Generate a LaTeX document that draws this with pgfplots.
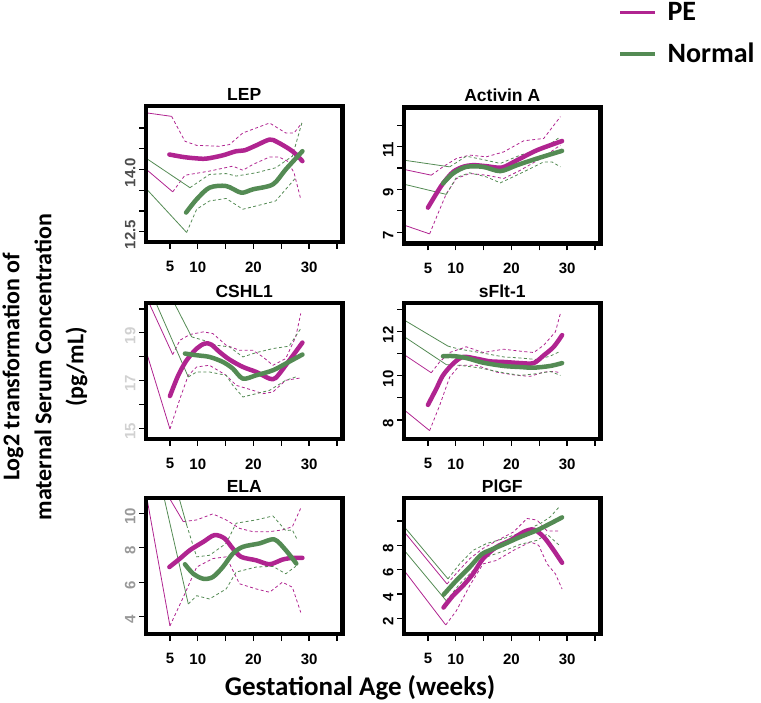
\documentclass[border=0pt]{standalone}
\usepackage{pgfplots}
\pgfplotsset{compat=1.18}
\usepackage{fontspec}
\setmainfont{Liberation Sans}
\newfontfamily\calibri{Carlito}
\definecolor{pecol}{RGB}{176,36,144}
\definecolor{nocol}{RGB}{84,139,84}
\pgfplotsset{
  panel/.style={
    scale only axis, width=196.5pt, height=136pt,
    xmin=0.7, xmax=36,
    xtick={5,10,...,35}, xticklabels={5,10,,20,,30,},
    tick pos=left, tick align=outside,
    major tick length=7pt,
    major tick style={line width=1.3pt, black},
    axis line style={line width=4.5pt, line cap=rect, line join=miter},
    tick label style={font=\fontsize{15}{15}\selectfont\bfseries},
    /pgf/number format/assume math mode=true,
    yticklabel style={rotate=90, anchor=south, xshift=-3pt},
    xticklabel style={yshift=-9pt},
    title style={font=\fontsize{17.5}{17.5}\selectfont\bfseries, at={(0.5,1)}, anchor=base, yshift=-0.5pt},
    axis on top,
  },
  pe/.style={color=pecol, line width=4.5pt, line cap=round, line join=round, smooth, tension=0.5},
  no/.style={color=nocol, line width=4.5pt, line cap=round, line join=round, smooth, tension=0.5},
  peci/.style={color=pecol, line width=0.8pt, dash pattern=on 3pt off 2.5pt},
  noci/.style={color=nocol, line width=0.8pt, dash pattern=on 3pt off 2.5pt},
  pethin/.style={color=pecol, line width=0.8pt},
  nothin/.style={color=nocol, line width=0.8pt},
}
\begin{document}
\begin{tikzpicture}
\useasboundingbox (0pt,0pt) rectangle (761pt,-703pt);

% ---------------- LEP
\begin{axis}[panel, at={(146pt,-106pt)}, anchor=north west, title={LEP},
  ymin=12.25, ymax=15.53, ytick={12.5,13,13.5,14,14.5,15}, yticklabels={12.5,,,14.0,,},
  yticklabel style={color=black!70}]
\addplot[pethin] coordinates {(0.5,15.37) (5.3,15.28)};
\addplot[peci] coordinates {(5.3,15.28) (7.7,14.68) (9.8,14.58) (13.9,14.56) (15.7,14.60) (18.1,14.88) (20.5,15.00) (22.9,15.12) (25.8,14.88) (27.3,14.88) (28.7,15.12)};
\addplot[pethin] coordinates {(0.5,14.03) (5.5,13.46)};
\addplot[peci] coordinates {(5.5,13.46) (7.7,13.86) (12.1,13.96) (16.3,14.08) (18.1,13.98) (19.9,14.12) (22.9,14.30) (24.6,14.30) (26.1,14.20) (27.3,13.92) (28.5,13.28)};
\addplot[nothin] coordinates {(0.5,14.29) (8.6,13.56)};
\addplot[noci] coordinates {(8.6,13.56) (12.1,13.88) (15.1,13.90) (16.9,13.84) (20.5,13.92) (24.0,14.04) (27.0,14.32) (28.7,15.12)};
\addplot[nothin] coordinates {(0.5,13.57) (8.0,12.48)};
\addplot[noci] coordinates {(8.0,12.48) (9.8,13.04) (12.1,13.24) (15.1,13.30) (18.1,13.04) (21.7,13.16) (24.0,13.24) (27.6,13.80)};
\addplot[pe] coordinates {(4.9,14.36) (7.4,14.30) (9.5,14.27) (11.5,14.26) (14.5,14.34) (16.9,14.44) (18.4,14.46) (20.5,14.58) (22.9,14.72) (24.3,14.66) (27.0,14.44) (28.8,14.20)};
\addplot[no] coordinates {(7.9,12.96) (9.8,13.28) (12.1,13.56) (15.1,13.60) (17.8,13.44) (19.9,13.52) (23.5,13.64) (25.8,14.00) (28.8,14.44)};
\end{axis}

% ---------------- Activin A
\begin{axis}[panel, at={(404pt,-107.5pt)}, anchor=north west, title={Activin A},
  ymin=6.47, ymax=12.84, ytick={7,8,9,10,11,12}, yticklabels={7,,9,,11,},
  legend style={at={(axis description cs:1.10,1.79)}, anchor=north west, draw=none, fill=none,
    inner sep=0pt, row sep=17pt, font=\calibri\bfseries\fontsize{28}{28}\selectfont},
  legend cell align=left,
  legend image code/.code={\fill[#1] (0pt,-1.35pt) rectangle (34pt,1.35pt); \path[draw=none,fill=none] (0pt,0pt) rectangle (45pt,0.1pt);}]
\addlegendimage{color=pecol, fill=pecol}
\addlegendentry{PE}
\addlegendimage{color=nocol, fill=nocol}
\addlegendentry{Normal}
\addplot[pethin] coordinates {(0.5,9.95) (5.6,9.67)};
\addplot[peci] coordinates {(5.6,9.67) (7.7,10.06) (10.1,10.45) (12.5,10.61) (15.5,10.53) (18.6,10.76) (22.2,11.28) (25.8,11.39) (28.8,12.41)};
\addplot[pethin] coordinates {(0.5,7.35) (5.3,6.92)};
\addplot[peci] coordinates {(5.3,6.92) (6.8,7.87) (8.3,8.80) (10.1,9.51) (12.5,9.75) (15.5,9.67) (18.6,9.51) (21.6,9.90) (25.8,10.53) (28.8,11.08)};
\addplot[nothin] coordinates {(0.5,10.38) (8.9,10.06)};
\addplot[noci] coordinates {(8.9,10.06) (11.9,10.56) (14.9,10.40) (18.0,10.22) (21.6,10.61) (25.8,10.92) (28.8,11.47)};
\addplot[nothin] coordinates {(0.5,9.26) (8.3,8.77)};
\addplot[noci] coordinates {(8.3,8.77) (10.1,9.56) (12.5,9.78) (15.5,9.59) (18.0,9.31) (21.6,9.75) (25.8,10.29) (27.3,10.29) (28.8,10.06)};
\addplot[pe] coordinates {(5,8.15) (6.5,8.8) (7.7,9.28) (9.5,9.82) (11.3,10.06) (13.1,10.14) (15.5,10.09) (18.3,10.03) (21.0,10.37) (24.6,10.84) (29.1,11.27)};
\addplot[no] coordinates {(7.7,9.28) (9.5,9.75) (11.9,10.06) (14.9,10.06) (18.0,9.86) (21.0,10.14) (24.6,10.45) (29.1,10.81)};
\end{axis}

% ---------------- CSHL1
\begin{axis}[panel, at={(146pt,-303pt)}, anchor=north west, title={CSHL1},
  ymin=14.55, ymax=20.25, ytick={15,16,17,18,19,20}, yticklabels={15,,17,,19,},
  yticklabel style={color=black!18}]
\addplot[pethin] coordinates {(1.15,20.3) (5.5,18.09)};
\addplot[peci] coordinates {(5.5,18.09) (6.8,18.69) (8.6,18.93) (11.0,19.04) (12.7,18.97) (15.1,18.48) (17.5,18.27) (19.9,18.27) (21.7,17.99) (23.5,17.64) (25.8,17.92) (27.6,18.83) (28.5,19.81)};
\addplot[pethin] coordinates {(0.5,18.40) (5,14.97)};
\addplot[peci] coordinates {(5,14.97) (6.8,16.24) (8.3,17.22) (9.8,17.57) (12.1,17.64) (15.1,17.22) (16.9,16.8) (19.9,16.59) (21.7,16.45) (23.5,16.52) (25.8,17.01) (28.5,17.11)};
\addplot[nothin] coordinates {(5.66,20.3) (8.9,18.83)};
\addplot[noci] coordinates {(8.9,18.83) (11.0,18.69) (13.3,18.48) (15.7,18.41) (18.1,17.99) (20.5,18.17) (23.5,18.34) (26.4,18.44) (28.5,19.18)};
\addplot[nothin] coordinates {(2.4,20.3) (8.3,17.15)};
\addplot[noci] coordinates {(8.3,17.15) (9.8,17.36) (12.1,17.36) (15.1,17.22) (16.3,16.8) (18.1,16.31) (20.5,16.45) (22.9,16.59) (25.8,17.01) (27.6,17.15)};
\addplot[pe] coordinates {(5,16.35) (6.5,17.22) (8.0,17.85) (9.8,18.34) (11.25,18.55) (12.4,18.51) (13.9,18.2) (15.7,17.88) (18.1,17.57) (20.5,17.36) (22.9,17.08) (24.0,17.11) (25.8,17.64) (28.8,18.59)};
\addplot[no] coordinates {(7.7,18.13) (9.8,18.06) (12.1,17.99) (14.5,17.78) (16.3,17.5) (18.1,17.08) (20.5,17.22) (23.5,17.43) (25.8,17.71) (28.8,18.09)};
\end{axis}

% ---------------- sFlt-1
\begin{axis}[panel, at={(404pt,-303pt)}, anchor=north west, title={sFlt-1},
  ymin=7.13, ymax=13.31, ytick={8,9,10,11,12,13}, yticklabels={8,,10,,12,}]
\addplot[pethin] coordinates {(0.5,11.0) (5.6,10.14)};
\addplot[peci] coordinates {(5.6,10.14) (7.1,10.63) (8.9,11.06) (11.9,11.32) (14.9,11.06) (18.6,11.21) (21.6,11.12) (24.0,11.06) (25.8,11.39) (27.9,12.0) (28.8,12.84)};
\addplot[pethin] coordinates {(0.5,8.5) (5.3,7.51)};
\addplot[peci] coordinates {(5.3,7.51) (7.1,8.65) (8.9,9.94) (10.7,10.48) (13.7,10.48) (17.3,10.17) (21.0,10.02) (23.4,9.98) (25.8,10.17) (27.6,10.2) (28.8,10.14)};
\addplot[nothin] coordinates {(0.5,12.57) (8.6,11.35)};
\addplot[noci] coordinates {(8.6,11.35) (10.7,11.21) (14.3,11.06) (18.6,10.86) (21.6,10.81) (24.6,10.74) (27.0,10.9) (28.8,11.12)};
\addplot[nothin] coordinates {(0.5,11.82) (8.3,10.51)};
\addplot[noci] coordinates {(8.3,10.51) (10.7,10.48) (14.3,10.36) (18.6,10.14) (21.6,10.02) (24.6,10.1) (27.0,10.2) (28.8,10.02)};
\addplot[pe] coordinates {(5,8.68) (6.5,9.41) (7.7,10.02) (9.5,10.55) (11.3,10.86) (13.7,10.78) (16.1,10.66) (18.6,10.63) (21.6,10.58) (24.0,10.58) (25.8,10.93) (27.6,11.32) (29.1,11.85)};
\addplot[no] coordinates {(7.7,10.89) (9.5,10.9) (11.9,10.81) (14.9,10.6) (18.6,10.45) (21.6,10.4) (24.0,10.37) (27.0,10.45) (29.1,10.58)};
\end{axis}

% ---------------- ELA
\begin{axis}[panel, at={(146pt,-498pt)}, anchor=north west, title={ELA},
  ymin=3.0, ymax=10.88, ytick={4,6,8,10}, yticklabels={4,6,8,10},
  yticklabel style={color=black!40}]
\addplot[pethin] coordinates {(4.67,11) (7.4,9.51)};
\addplot[peci] coordinates {(7.4,9.51) (9.8,9.61) (12.7,9.96) (15.1,9.61) (17.5,9.12) (19.9,8.93) (22.9,8.93) (25.2,9.03) (27.0,9.22) (28.5,10.29)};
\addplot[pethin] coordinates {(0.6,11.34) (5,3.47)};
\addplot[peci] coordinates {(5,3.47) (7.4,5.13) (9.8,6.88) (12.7,7.37) (15.1,7.47) (17.5,5.91) (20.5,5.61) (22.9,5.42) (25.2,6.0) (27.0,5.71) (28.5,4.25)};
\addplot[nothin] coordinates {(6.54,11) (8.0,9.32)};
\addplot[noci] coordinates {(8.0,9.32) (9.8,7.47) (12.1,7.56) (15.1,8.25) (16.9,9.42) (20.5,9.61) (23.5,9.84) (25.8,8.99) (27.0,9.03) (27.9,8.44)};
\addplot[nothin] coordinates {(3.87,11) (8.3,4.74)};
\addplot[noci] coordinates {(8.3,4.74) (9.8,5.22) (12.1,5.03) (15.1,5.61) (16.9,6.59) (20.5,6.88) (23.5,6.92) (25.8,6.49) (27.6,6.92)};
\addplot[pe] coordinates {(4.9,6.88) (6.8,7.37) (8.6,7.86) (11.0,8.34) (13.0,8.73) (14.8,8.54) (16.3,7.95) (17.8,7.47) (20.5,7.27) (22.9,7.04) (25.2,7.31) (27.0,7.41) (28.8,7.41)};
\addplot[no] coordinates {(7.7,7.04) (9.2,6.49) (11.0,6.2) (12.7,6.3) (14.5,6.88) (16.3,7.66) (18.1,8.05) (21.1,8.25) (23.75,8.48) (25.8,7.86) (27.7,7.08)};
\end{axis}

% ---------------- PlGF
\begin{axis}[panel, at={(404pt,-498pt)}, anchor=north west, title={PlGF},
  ymin=0.73, ymax=11.88, ytick={2,4,6,8,10}, yticklabels={2,4,6,8,}]
\addplot[pethin] coordinates {(0.5,9.24) (8.43,4.83)};
\addplot[peci] coordinates {(8.43,4.83) (10.1,5.7) (12.5,6.9) (14.9,7.75) (17.3,8.36) (20.4,9.1) (22.8,10.2) (24.6,10.07) (26.4,9.18) (28.8,9.18)};
\addplot[pethin] coordinates {(0.5,6.07) (8.2,1.47)};
\addplot[peci] coordinates {(8.2,1.47) (10.1,2.63) (12.5,4.69) (14.9,6.48) (17.3,6.76) (20.4,7.59) (23.4,8.28) (24.9,8.0) (26.4,6.48) (27.9,5.66) (29.1,4.42)};
\addplot[nothin] coordinates {(0.5,9.65) (8.6,5.25)};
\addplot[noci] coordinates {(8.6,5.25) (10.7,6.48) (13.1,7.59) (15.5,8.14) (18.6,8.55) (21.6,9.02) (25.2,9.79) (27.0,10.34) (28.5,11.11)};
\addplot[nothin] coordinates {(0.5,7.72) (8.3,3.45)};
\addplot[noci] coordinates {(8.3,3.45) (10.7,4.83) (13.1,5.93) (15.5,7.04) (18.6,7.53) (21.6,8.08) (24.6,8.41) (26.4,8.91) (28.8,7.92)};
\addplot[pe] coordinates {(7.8,2.9) (9.5,3.87) (11.3,4.69) (13.1,5.66) (14.9,6.9) (17.3,7.86) (19.8,8.41) (22.2,9.1) (24.0,9.29) (25.8,8.69) (27.6,7.59) (29.1,6.57)};
\addplot[no] coordinates {(7.8,3.95) (10.1,5.11) (12.5,6.21) (14.6,7.26) (16.1,7.59) (18.6,8.08) (21.6,8.69) (24.6,9.24) (27.0,9.79) (29.1,10.29)};
\end{axis}

\node[rotate=90, align=center, font=\calibri\bfseries\fontsize{24}{32}\selectfont] at (45pt,-367pt)
  {Log2 transformation of\\maternal Serum Concentration\\(pg/mL)};
\node[font=\calibri\bfseries\fontsize{27}{27}\selectfont] at (360pt,-688pt) {Gestational Age (weeks)};
\end{tikzpicture}
\end{document}
